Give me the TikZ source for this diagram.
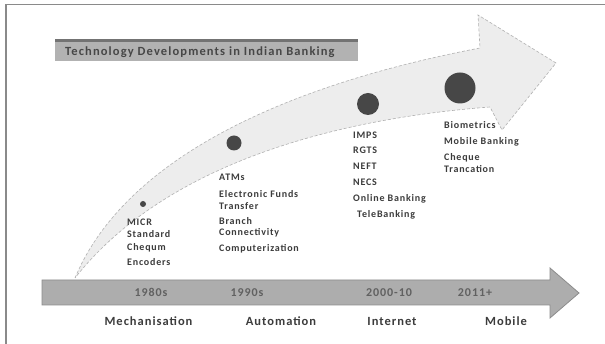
\documentclass[tikz,border=0pt]{standalone}
\usepackage{fontspec}
\setmainfont{Carlito}
\definecolor{framegray}{HTML}{8A8A8A}
\definecolor{bandfill}{HTML}{EDEDED}
\definecolor{bandline}{HTML}{B0B0B0}
\definecolor{barfill}{HTML}{ADADAD}
\definecolor{barline}{HTML}{8C8C8C}
\definecolor{dotfill}{HTML}{474747}
\definecolor{inkgray}{HTML}{3C3C3C}
\newcommand{\spaced}[1]{\addfontfeatures{LetterSpace=#1}}
\begin{document}
\begin{tikzpicture}[x=1pt,y=-1pt,
  item/.style={anchor=base west,inner sep=0pt,text=inkgray,
    font=\fontsize{10}{11}\selectfont\bfseries\spaced{8}},
  era/.style={anchor=base,inner sep=0pt,text=black!62,
    font=\fontsize{12}{13}\selectfont\bfseries\spaced{8}},
  phase/.style={anchor=base,inner sep=0pt,text=inkgray,
    font=\fontsize{12.5}{14}\selectfont\bfseries\spaced{8}},
  dot/.style={circle,fill=dotfill,inner sep=0pt,minimum size=#1}]
\useasboundingbox (0,0) rectangle (605,344);
\fill[white] (0,0) rectangle (605,344);

% page frame (top and left rules)
\draw[framegray,line width=1.4pt] (6,344) -- (6,4.5) -- (605,4.5);

% title banner
\fill[black!30] (55,39) rectangle (358,61);
\fill[black!55] (55,39) rectangle (358,42);
\node[anchor=base west,inner sep=0pt,text=black!72,
  font=\fontsize{12.5}{14}\selectfont\bfseries\spaced{9}] (title) at (65,56)
  {Technology Developments in Indian Banking};

% rising curved arrow
\path[fill=bandfill,draw=bandline,densely dashed,line width=0.6pt]
  (75,278) .. controls (120,170) and (260,90) .. (480,48)
  -- (478,15) -- (556,63) -- (502,130) -- (490,107)
  .. controls (320,120) and (160,170) .. cycle;

% milestone dots, growing along the arrow
\node[dot=6pt]  (d1) at (143,204) {};
\node[dot=15pt] (d2) at (234,143) {};
\node[dot=22pt] (d3) at (368,104) {};
\node[dot=31pt] (d4) at (460,88)  {};

% timeline bar
\path[fill=barfill,draw=barline,line width=0.8pt]
  (42,280) -- (550,280) -- (550,268) -- (579,293)
  -- (550,318) -- (550,305) -- (42,305) -- cycle;

\node[era] (y1) at (151,297) {1980s};
\node[era] (y2) at (247,297) {1990s};
\node[era] (y3) at (389,297) {2000-10};
\node[era] (y4) at (475,297) {2011+};

\node[phase] (p1) at (148.5,326) {Mechanisation};
\node[phase] (p2) at (281,326) {Automation};
\node[phase] (p3) at (392,326) {Internet};
\node[phase] (p4) at (506,326) {Mobile};

% 1980s
\node[item] (a1) at (127,226) {MICR};
\node[item] (a2) at (127,238) {Standard};
\node[item] (a3) at (127,251) {Chequm};
\node[item] (a4) at (127,266) {Encoders};

% 1990s
\node[item] (b1) at (219,181) {ATMs};
\node[item] (b2) at (219,198) {Electronic Funds};
\node[item] (b3) at (219,210) {Transfer};
\node[item] (b4) at (219,225) {Branch};
\node[item] (b5) at (219,236) {Connectivity};
\node[item] (b6) at (219,252) {Computerization};

% 2000-10
\node[item] (c1) at (353,139) {IMPS};
\node[item] (c2) at (353,154) {RGTS};
\node[item] (c3) at (353,170) {NEFT};
\node[item] (c4) at (353,186) {NECS};
\node[item] (c5) at (353,202) {Online Banking};
\node[item] (c6) at (357,218) {TeleBanking};

% 2011+
\node[item] (e1) at (444,129) {Biometrics};
\node[item] (e2) at (444,145) {Mobile Banking};
\node[item] (e3) at (444,161) {Cheque};
\node[item] (e4) at (444,173) {Trancation};
\end{tikzpicture}
\end{document}
